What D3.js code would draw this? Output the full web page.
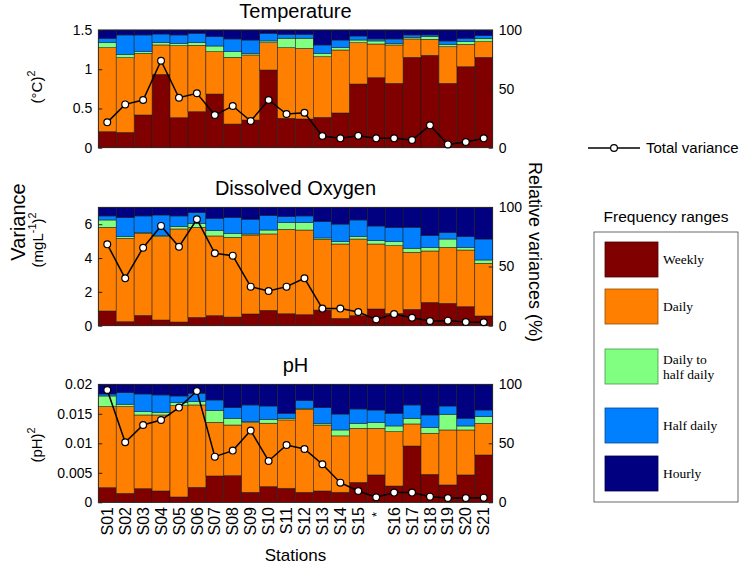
<!DOCTYPE html>
<html><head><meta charset="utf-8">
<script src="https://cdn.jsdelivr.net/npm/d3@7"></script>
<style>
body{margin:0;background:#fff;}
text{fill:#000;}
</style></head>
<body><svg id="c" width="748" height="565" font-family="Arial, 'Liberation Sans', Helvetica, sans-serif"></svg>
<script>
const stations = ["S01","S02","S03","S04","S05","S06","S07","S08","S09","S10","S11","S12","S13","S14","S15","*","S16","S17","S18","S19","S20","S21"];
const bands = ["Weekly","Daily","Daily to half daily","Half daily","Hourly"];
const bandColors = ["#800000","#FF8000","#80FF80","#0080FF","#000080"];

// Relative variances (%), per frequency band
const tempWeekly   = [13.6,13.0,27.8,62.3,25.5,30.6,45.6,20.1,23.5,66.0,25.0,24.4,25.8,29.5,54.1,59.5,54.7,76.8,78.5,54.7,68.8,76.8];
const tempDaily    = [71.4,63.5,52.4,25.0,61.2,56.4,36.0,56.7,55.3,23.2,60.0,60.0,51.5,53.5,35.1,28.6,32.6,15.6,13.6,31.1,19.0,13.3];
const tempDailyHalf= [4.2,2.8,1.4,1.9,2.0,2.2,4.8,4.8,1.2,1.5,8.0,8.6,2.9,2.0,2.3,2.6,1.4,1.4,2.2,2.0,2.3,2.8];
const tempHalfDaily= [3.7,16.5,14.2,7.4,7.1,8.0,7.9,10.8,11.5,6.5,3.3,3.3,7.1,6.5,3.4,1.7,3.7,2.0,1.5,2.9,2.8,2.3];
const tempHourly   = [7.1,4.2,4.2,3.4,4.2,2.8,5.7,7.6,8.5,2.8,3.7,3.7,12.7,8.5,5.1,7.6,7.6,4.2,4.2,9.3,7.1,4.8];
const tempTotal    = [0.323,0.552,0.608,1.109,0.637,0.693,0.416,0.531,0.340,0.608,0.429,0.446,0.149,0.119,0.153,0.119,0.119,0.098,0.285,0.042,0.072,0.119];

const doWeekly   = [12.4,3.4,8.7,4.8,3.1,7.0,8.5,7.3,9.9,13.0,10.1,9.3,13.2,6.2,8.5,14.1,10.4,13.8,19.7,18.9,16.1,8.2];
const doDaily    = [70.7,70.4,69.3,70.4,78.6,76.1,67.3,67.3,66.7,64.5,71.3,71.5,59.8,62.8,64.7,54.9,57.2,48.2,43.4,47.3,47.8,44.5];
const doDailyHalf= [6.2,1.4,0.9,0.9,2.0,3.4,4.5,3.4,0.9,3.3,5.6,6.2,1.1,2.0,2.0,2.8,3.4,3.4,2.8,7.0,2.3,2.8];
const doHalfDaily= [3.4,16.1,13.8,17.4,9.0,9.0,10.4,13.3,12.4,12.2,5.1,5.7,13.8,14.8,14.1,12.4,11.8,17.7,10.2,5.4,9.0,17.7];
const doHourly   = [7.3,8.7,7.3,6.5,7.3,4.5,9.3,8.7,10.1,7.0,7.9,7.3,12.1,14.2,10.7,15.8,17.2,16.9,23.9,21.4,24.8,26.8];
const doTotal    = [4.81,2.80,4.61,5.90,4.67,6.29,4.28,4.14,2.31,2.05,2.31,2.80,1.01,1.01,0.81,0.37,0.69,0.47,0.28,0.30,0.22,0.20];

const phWeekly   = [12.4,7.6,11.6,9.6,4.5,12.7,22.3,22.6,8.5,13.3,11.9,8.5,9.6,8.5,16.9,23.2,13.8,47.7,23.7,14.7,23.2,40.1];
const phDaily    = [68.7,73.5,62.4,64.4,77.4,69.8,45.5,42.9,59.0,53.7,57.9,70.3,55.9,47.8,45.8,39.5,46.1,18.7,34.8,46.6,38.1,26.8];
const phDailyHalf= [9.0,2.0,2.8,2.3,2.6,2.8,9.9,5.7,0.9,3.3,1.4,0.9,1.4,5.0,4.2,4.8,4.8,4.8,4.8,13.3,3.4,5.7];
const phHalfDaily= [1.7,9.8,15.0,14.7,5.6,7.1,9.0,9.0,14.1,11.3,4.2,6.5,13.3,13.5,12.2,10.7,10.7,11.3,10.7,7.0,6.5,5.6];
const phHourly   = [8.2,7.1,8.2,9.0,9.9,7.6,13.3,19.8,17.5,18.4,24.6,13.8,19.8,25.2,20.9,21.8,24.6,17.5,26.0,18.4,28.8,21.8];
const phTotal    = [0.01904,0.01017,0.01311,0.01395,0.01605,0.01887,0.00774,0.00876,0.01215,0.00701,0.00972,0.00904,0.00644,0.00333,0.00192,0.00085,0.00164,0.00164,0.00096,0.00073,0.00073,0.00079];

const tempTicks = [0,0.5,1,1.5], tempTickLabels = ["0","0.5","1","1.5"];
const doTicks = [0,2,4,6], doTickLabels = ["0","2","4","6"];
const phTicks = [0,0.005,0.01,0.015,0.02], phTickLabels = ["0","0.005","0.01","0.015","0.02"];
const relTicks = [0,50,100];

const svg = d3.select("#c");
const X0 = 98.3, X1 = 492.7;
const x = d3.scaleBand().domain(stations).range([X0, X1]).padding(0);

const panels = [
  {title:"Temperature", top:30, bottom:147.7, max:1.5, ticks:tempTicks, labels:tempTickLabels,
   series:[tempWeekly,tempDaily,tempDailyHalf,tempHalfDaily,tempHourly], total:tempTotal},
  {title:"Dissolved Oxygen", top:207.3, bottom:325.7, max:7, ticks:doTicks, labels:doTickLabels,
   series:[doWeekly,doDaily,doDailyHalf,doHalfDaily,doHourly], total:doTotal},
  {title:"pH", top:384.3, bottom:502.3, max:0.02, ticks:phTicks, labels:phTickLabels,
   series:[phWeekly,phDaily,phDailyHalf,phHalfDaily,phHourly], total:phTotal}
];

panels.forEach(p => {
  const g = svg.append("g");
  const yL = d3.scaleLinear().domain([0,p.max]).range([p.bottom,p.top]);
  const yR = d3.scaleLinear().domain([0,100]).range([p.bottom,p.top]);
  const rows = stations.map((s,i)=>{const o={station:s}; bands.forEach((b,k)=>o[b]=p.series[k][i]); return o;});
  const stack = d3.stack().keys(bands)(rows);
  stack.forEach((layer,k)=>{
    g.append("g").selectAll("rect").data(layer).join("rect")
      .attr("x", d=>x(d.data.station))
      .attr("width", x.bandwidth())
      .attr("y", d=>yR(Math.min(100,d[1])))
      .attr("height", d=>Math.max(0, yR(d[0]) - yR(Math.min(100,d[1]))))
      .attr("fill", bandColors[k])
      .attr("stroke", "#1a1a1a").attr("stroke-width", 0.6).attr("stroke-opacity",0.85);
  });
  g.append("rect").attr("x",X0).attr("y",p.top).attr("width",X1-X0).attr("height",p.bottom-p.top)
    .attr("fill","none").attr("stroke","#222").attr("stroke-width",0.8);
  const axL = g.append("g").attr("transform",`translate(${X0},0)`)
    .call(d3.axisLeft(yL).tickValues(p.ticks).tickFormat((d,i)=>p.labels[i]).tickSizeInner(-4).tickSizeOuter(0).tickPadding(6));
  axL.select(".domain").remove();
  axL.attr("font-family",null);
  axL.selectAll("text").attr("font-size",14);
  axL.selectAll("line").attr("stroke","#222");
  const axR = g.append("g").attr("transform",`translate(${X1},0)`)
    .call(d3.axisRight(yR).tickValues(relTicks).tickSizeInner(-4).tickSizeOuter(0).tickPadding(6));
  axR.select(".domain").remove();
  axR.attr("font-family",null);
  axR.selectAll("text").attr("font-size",14);
  axR.selectAll("line").attr("stroke","#222");
  const line = d3.line().x((d,i)=>x(stations[i])+x.bandwidth()/2).y(d=>yL(d));
  g.append("path").datum(p.total).attr("d",line).attr("fill","none").attr("stroke","#000").attr("stroke-width",1.5);
  g.selectAll("circle.pt").data(p.total).join("circle").attr("class","pt")
    .attr("cx",(d,i)=>x(stations[i])+x.bandwidth()/2).attr("cy",d=>yL(d)).attr("r",3.4)
    .attr("fill","#fff").attr("stroke","#000").attr("stroke-width",1.2);
  svg.append("text").attr("x",(X0+X1)/2).attr("y",p.top-12).attr("text-anchor","middle")
    .attr("font-size",20).text(p.title);
});

// x labels
svg.append("g").selectAll("text").data(stations).join("text")
  .attr("transform", d=>`translate(${x(d)+x.bandwidth()/2},${d==="*"?512:507}) rotate(-90)`)
  .attr("text-anchor","end").attr("dy","0.35em")
  .attr("font-size", d=> d==="*" ? 13 : 16).text(d=>d);
svg.append("text").attr("x",(X0+X1)/2).attr("y",561).attr("text-anchor","middle").attr("font-size",17).text("Stations");

function rotLabel(xc, yc, size, main){
  const t = svg.append("text").attr("transform",`translate(${xc},${yc}) rotate(-90)`)
    .attr("text-anchor","middle").attr("font-size",size);
  main.forEach(seg=>{
    const ts = t.append("tspan").text(seg.t);
    if(seg.sup){ ts.attr("font-size",size*0.72).attr("dy",-size*0.45); }
    else if(seg.down){ ts.attr("dy",size*0.45); }
  });
  return t;
}
rotLabel(42, 87, 15, [{t:"(°C)"},{t:"2",sup:true}]);
rotLabel(25, 222, 20, [{t:"Variance"}]);
rotLabel(43, 240, 15, [{t:"(mgL"},{t:"-1",sup:true},{t:")",down:true},{t:"2",sup:true}]);
rotLabel(42, 445, 15, [{t:"(pH)"},{t:"2",sup:true}]);

svg.append("text").attr("transform","translate(529,252) rotate(90)").attr("text-anchor","middle")
  .attr("font-size",18).text("Relative variances (%)");

// Total variance legend
svg.append("line").attr("x1",588).attr("x2",640).attr("y1",148).attr("y2",148).attr("stroke","#000").attr("stroke-width",1.5);
svg.append("circle").attr("cx",614).attr("cy",148).attr("r",3.4).attr("fill","#fff").attr("stroke","#000").attr("stroke-width",1.2);
svg.append("text").attr("x",646).attr("y",153).attr("font-size",15).text("Total variance");

// Frequency legend
svg.append("text").attr("x",666).attr("y",222).attr("text-anchor","middle").attr("font-size",15.5).text("Frequency ranges");
svg.append("rect").attr("x",594).attr("y",232).attr("width",144).attr("height",270).attr("fill","#fff").attr("stroke","#444").attr("stroke-width",0.8);
const legTops = [242,289,349,408,456];
const legLabels = [["Weekly"],["Daily"],["Daily to","half daily"],["Half daily"],["Hourly"]];
bands.forEach((b,k)=>{
  svg.append("rect").attr("x",605).attr("y",legTops[k]).attr("width",53).attr("height",35)
    .attr("fill",bandColors[k]).attr("stroke",d3.color(bandColors[k]).darker(1.5)).attr("stroke-width",0.8);
  const lines = legLabels[k];
  const cy = legTops[k]+17.5;
  lines.forEach((l,j)=>{
    svg.append("text").attr("x",663).attr("y", cy + 4.5 + (j - (lines.length-1)/2)*15)
      .attr("font-family","'Liberation Serif','Times New Roman',serif").attr("font-size",13.5).attr("fill","#222").text(l);
  });
});
</script></body></html>
